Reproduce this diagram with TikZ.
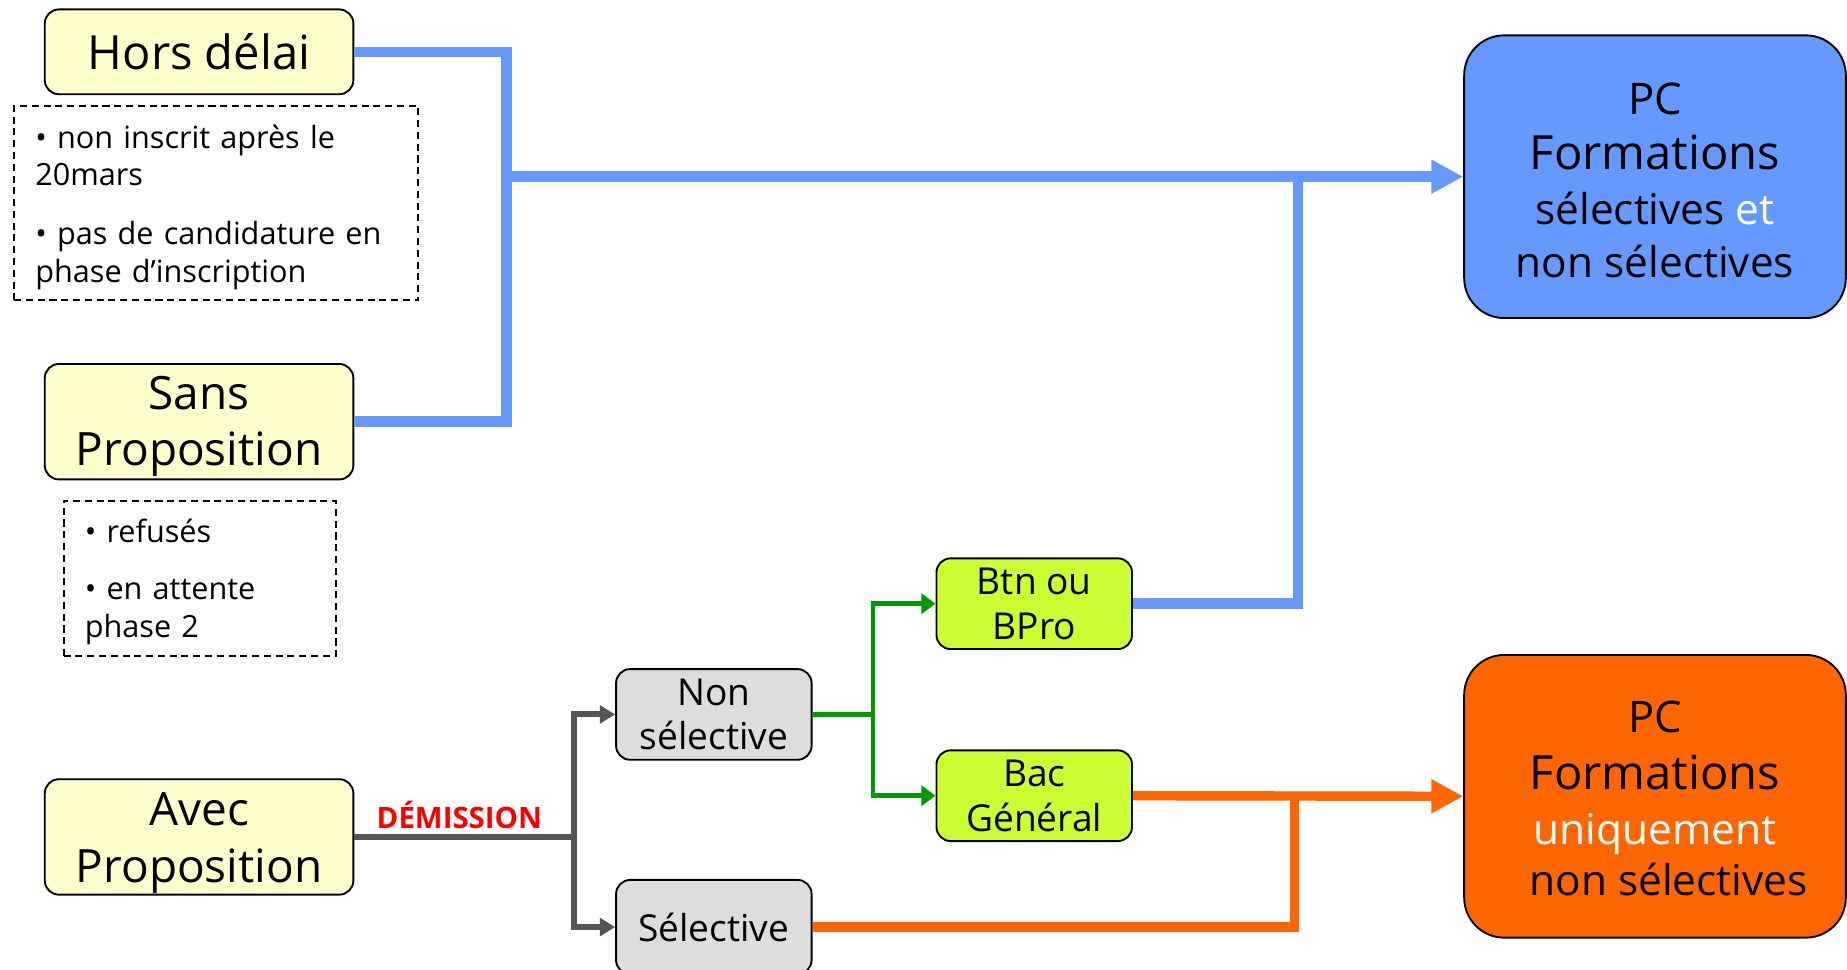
\documentclass[tikz,border=0pt]{standalone}
\usepackage{fontspec}
\setmainfont{Open Sans}
\usetikzlibrary{arrows.meta}

\definecolor{jaunepale}{HTML}{FFFFCC}
\definecolor{grisclair}{HTML}{DDDDDD}
\definecolor{vertcitron}{HTML}{CCFF33}
\definecolor{bleupc}{HTML}{6699FF}
\definecolor{orangepc}{HTML}{FF6600}
\definecolor{vertfleche}{HTML}{009900}
\definecolor{grisfleche}{HTML}{555555}

% descend une ligne sans changer la boite
\newcommand{\bas}[2][4pt]{\raisebox{-#1}[\height][\depth]{#2}}

\begin{document}
\begin{tikzpicture}[
                x=1pt,y=-1pt,
                line width=1.6pt,
                boite/.style={draw,rounded corners=12pt,align=center,inner sep=0pt},
                jaune/.style={boite,fill=jaunepale,minimum width=262pt,minimum height=98pt,font=\fontsize{39}{48}\selectfont},
                petite/.style={boite,minimum width=166pt,minimum height=77pt,font=\fontsize{31.5}{38}\selectfont},
                note/.style={draw,dash pattern=on 6pt off 4pt,align=left,inner xsep=18pt,inner ysep=0pt,font=\fontsize{26}{32}\selectfont},
                pc/.style={draw,rounded corners=34pt,align=center,inner sep=0pt,minimum width=324pt,minimum height=240pt,font=\fontsize{36}{46}\selectfont},
                bleu/.style={bleupc,line width=9pt},
                orange/.style={orangepc,line width=8pt},
                vert/.style={vertfleche,line width=4pt,-{Triangle[length=12pt,width=17pt]}},
                gris/.style={grisfleche,line width=5pt}] %

\fill[white] (0,0) rectangle (1568,823);
\useasboundingbox (0,0) rectangle (1568,823);

% gauche
                    \node[jaune,minimum height=72pt,font=\fontsize{40}{48}\selectfont] (HORS) at (169,44) {Hors délai};
                    \node[note,text width=307pt,minimum height=165pt] (NOTEHORS) at (183.5,172.5) {\bas[3.5pt]{• non inscrit après le}\\\bas[3.5pt]{20mars}\\[18pt]\bas[3.5pt]{• pas de candidature en}\\\bas[3.5pt]{phase d’inscription}};
                    \node[jaune] (SANS) at (169,358) {\bas{Sans}\\\bas{Proposition}};
                    \node[note,text width=195pt,minimum height=132pt] (NOTESANS) at (169.5,491) {\bas[3pt]{• refusés}\\[17pt]\bas[3pt]{• en attente}\\\bas[3pt]{phase 2}};
                    \node[jaune] (AVEC) at (169,710.5) {\bas[5pt]{Avec}\\\bas[5pt]{Proposition}};

% milieu
                    \node[petite,fill=grisclair] (NONSEL) at (606,606.5) {Non\\sélective};
                    \node[petite,fill=grisclair,minimum height=80pt] (SEL) at (606,787) {Sélective};
                    \node[petite,fill=vertcitron] (BTN) at (878,512.5) {Btn ou\\BPro};
                    \node[petite,fill=vertcitron] (BAC) at (878,675.5) {Bac\\Général};

% droite
                    \node[pc,fill=bleupc] (PCTOUT) at (1405,150) {\bas[3pt]{\fontsize{37}{46}\selectfont PC}\\\bas[4pt]{\fontsize{40}{46}\selectfont Formations}\\\bas[4pt]{sélectives \textcolor{white}{et}}\\\bas[3pt]{non sélectives}};
                    \node[pc,fill=orangepc] (PCNON) at (1405,676) {\bas[2pt]{\fontsize{37}{46}\selectfont PC}\\\bas[4pt]{\fontsize{40}{46}\selectfont Formations}\\\bas[5pt]{\textcolor{white}{uniquement}}\\\bas[2pt]{\hspace*{23pt}non sélectives}};

% bleu
                    \coordinate (BJOIN) at (430,150);
                    \coordinate (BMERGE) at (1102,150);
                    \draw[bleu] (HORS.east) -| (BJOIN) |- (SANS.east);
                    \draw[bleu,-{Triangle[length=27pt,width=27pt]}] (BJOIN) -- (PCTOUT.west);
                    \draw[bleu] (BTN.east) -| (BMERGE);

% orange
                    \coordinate (OMERGE) at (1099,676);
                    \draw[orange,-{Triangle[length=27pt,width=27pt]}] (BAC.east) -- (PCNON.west);
                    \draw[orange] (SEL.east) -| (OMERGE);

% gris
                    \coordinate (GSPLIT) at (487,710.5);
                    \draw[gris] (AVEC.east) -- (GSPLIT);
                    \draw[gris,-{Triangle[length=13pt,width=15pt]}] (GSPLIT) |- (NONSEL.west);
                    \draw[gris,-{Triangle[length=13pt,width=15pt]}] (GSPLIT) |- (SEL.west);
                    \node[text=red,font=\fontsize{25}{30}\selectfont\bfseries] (DEM) at (390,692) {DÉMISSION};

% vert
                    \coordinate (GSPLITV) at (741,606.5);
                    \draw[vertfleche,line width=4pt] (NONSEL.east) -- (GSPLITV);
                    \draw[vert] (GSPLITV) |- (BTN.west);
                    \draw[vert] (GSPLITV) |- (BAC.west);

%%%%%%%%%%%%%%%%%%%%%%%%%%%%%%%%%%%%%%%%%%%%%%%%%%%%%%%%%%%%%%%%%%%%%%%%%%%%%%%%%%%%

\end{tikzpicture}
\end{document}
